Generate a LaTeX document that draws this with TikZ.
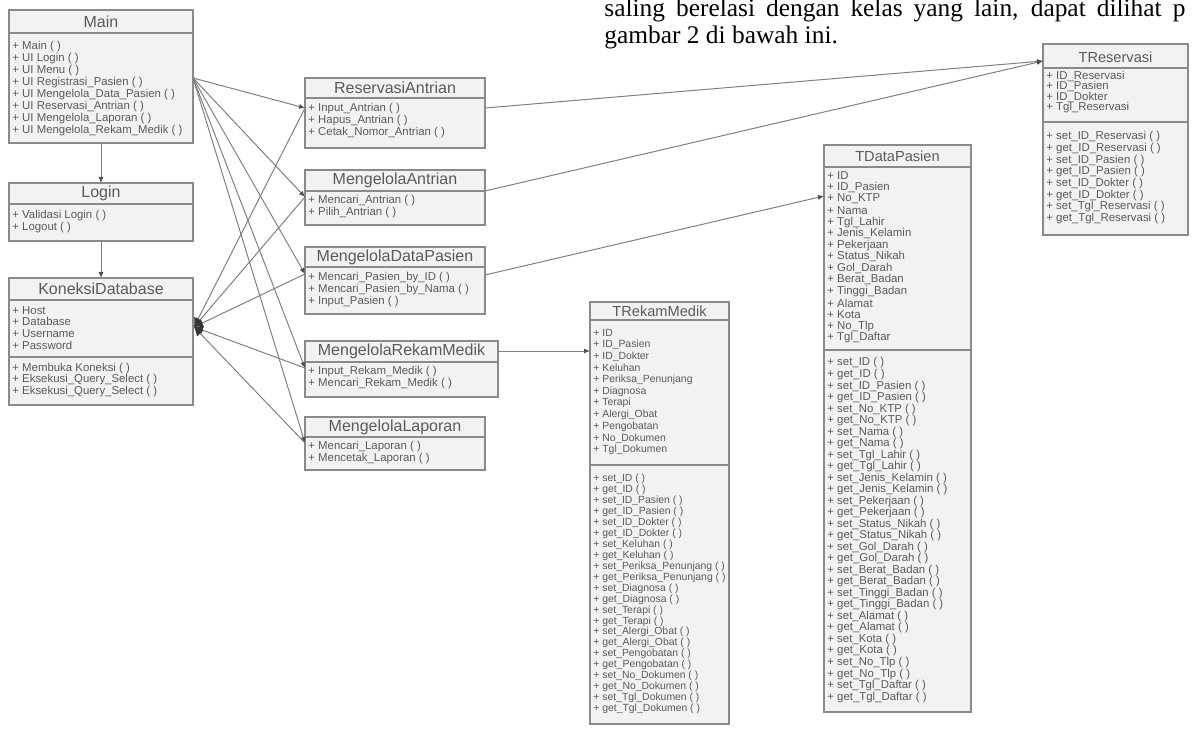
\documentclass[tikz,border=0pt]{standalone}
\usepackage{fontspec}
\setmainfont{Liberation Serif}
\newfontfamily\umlfont{Liberation Sans}
\usetikzlibrary{arrows.meta}

\definecolor{boxfill}{HTML}{F2F2F2}
\definecolor{boxdraw}{HTML}{8A8A8A}
\definecolor{umltext}{HTML}{5A5A5A}
\definecolor{linkdraw}{HTML}{808080}
\definecolor{tipdraw}{HTML}{505050}
\definecolor{blobdraw}{HTML}{353535}

\tikzset{
	classbox/.style={draw=boxdraw, fill=boxfill, line width=0.9pt},
	classline/.style={draw=boxdraw, line width=0.9pt},
	classtitle/.style={inner sep=0pt, text=umltext, font=\umlfont\fontsize{8}{9}\selectfont},
	tabletitle/.style={inner sep=0pt, text=umltext, font=\umlfont\fontsize{7.3}{9}\selectfont},
	member/.style={anchor=west, inner sep=0pt, text=umltext, font=\umlfont\fontsize{5.7}{6}\selectfont},
	link/.style={draw=linkdraw, line width=0.5pt, -{Latex[length=3pt,width=2.6pt,color=tipdraw]}},
	konlink/.style={draw=linkdraw, line width=0.5pt, -{Latex[length=4.5pt,width=4.5pt,color=blobdraw]}},
	para/.style={anchor=base west, inner sep=0pt, font=\fontsize{12.7}{15}\selectfont}
}

\begin{document}
\begin{tikzpicture}[x=0.5pt, y=-0.5pt]
		\useasboundingbox (0,0) rectangle (1192,737);
		
		% Text
		\node[para] (para1) at (604,17) {\makebox[290.5pt][s]{saling berelasi dengan kelas yang lain, dapat dilihat p}};
		\node[para] (para2) at (604,44) {gambar 2 di bawah ini.};
		
		% Main
		\draw[classbox] (9,10) rectangle (193,143);
		\draw[classline] (9,33) -- (193,33);
		\node[classtitle] (main) at (101,21.5) {Main};
		\foreach \m [count=\i] in {Main ( ), UI Login ( ), UI Menu ( ), UI Registrasi\_Pasien ( ), UI Mengelola\_Data\_Pasien ( ), UI Reservasi\_Antrian ( ), UI Mengelola\_Laporan ( ), UI Mengelola\_Rekam\_Medik ( )}
			\node[member] (main-\i) at (12,{35+12*\i}) {+ \m};
		
		% Login
		\draw[classbox] (9,183) rectangle (193,241);
		\draw[classline] (9,204) -- (193,204);
		\node[classtitle] (login) at (101,193.5) {Login};
		\foreach \m [count=\i] in {Validasi Login ( ), Logout ( )}
			\node[member] (login-\i) at (12,{204+12*\i}) {+ \m};
		
		% KoneksiDatabase
		\draw[classbox] (9,278) rectangle (193,405);
		\draw[classline] (9,300) -- (193,300);
		\draw[classline] (9,357) -- (193,357);
		\node[classtitle] (kon) at (101,289) {KoneksiDatabase};
		\foreach \m [count=\i] in {Host, Database, Username, Password}
			\node[member] (kon-a\i) at (12,{298.5+11.7*\i}) {+ \m};
		\foreach \m [count=\i] in {Membuka Koneksi ( ), Eksekusi\_Query\_Select ( ), Eksekusi\_Query\_Select ( )}
			\node[member] (kon-m\i) at (12,{356.5+11.7*\i}) {+ \m};
		
		% ReservasiAntrian
		\draw[classbox] (305,78) rectangle (485,148);
		\draw[classline] (305,98) -- (485,98);
		\node[classtitle] (ra) at (395,88) {ReservasiAntrian};
		\foreach \m [count=\i] in {Input\_Antrian ( ), Hapus\_Antrian ( ), Cetak\_Nomor\_Antrian ( )}
			\node[member] (ra-\i) at (308,{97+12*\i}) {+ \m};
		
		% MengelolaAntrian
		\draw[classbox] (305,170) rectangle (485,225);
		\draw[classline] (305,191) -- (485,191);
		\node[classtitle] (ma) at (395,180.5) {MengelolaAntrian};
		\foreach \m [count=\i] in {Mencari\_Antrian ( ), Pilih\_Antrian ( )}
			\node[member] (ma-\i) at (308,{189+12*\i}) {+ \m};
		
		% MengelolaDataPasien
		\draw[classbox] (305,247) rectangle (485,314);
		\draw[classline] (305,267) -- (485,267);
		\node[classtitle] (mdp) at (395,257) {MengelolaDataPasien};
		\foreach \m [count=\i] in {Mencari\_Pasien\_by\_ID ( ), Mencari\_Pasien\_by\_Nama ( ), Input\_Pasien ( )}
			\node[member] (mdp-\i) at (308,{266+12*\i}) {+ \m};
		
		% MengelolaRekamMedik
		\draw[classbox] (305,341) rectangle (498,397);
		\draw[classline] (305,362) -- (498,362);
		\node[classtitle] (mrm) at (401.5,351.5) {MengelolaRekamMedik};
		\foreach \m [count=\i] in {Input\_Rekam\_Medik ( ), Mencari\_Rekam\_Medik ( )}
			\node[member] (mrm-\i) at (308,{360+12*\i}) {+ \m};
		
		% MengelolaLaporan
		\draw[classbox] (305,417) rectangle (485,470);
		\draw[classline] (305,437) -- (485,437);
		\node[classtitle] (ml) at (395,427) {MengelolaLaporan};
		\foreach \m [count=\i] in {Mencari\_Laporan ( ), Mencetak\_Laporan ( )}
			\node[member] (ml-\i) at (308,{435+12*\i}) {+ \m};
		
		% TReservasi
		\draw[classbox] (1043,44) rectangle (1188,235);
		\draw[classline] (1043,68) -- (1188,68);
		\draw[classline] (1043,122) -- (1188,122);
		\node[tabletitle] (tres) at (1115.5,57) {TReservasi};
		\foreach \a [count=\i] in {ID\_Reservasi, ID\_Pasien, ID\_Dokter, Tgl\_Reservasi} {
			\node[member] (tres-a\i) at (1046,{65.5+10.6*\i}) {+ \a};
			\node[member] (tres-s\i) at (1046,{113.3+23.4*\i}) {+ set\_\a\ ( )};
			\node[member] (tres-g\i) at (1046,{125+23.4*\i}) {+ get\_\a\ ( )};
		}
		
		% TDataPasien
		\draw[classbox] (824,145) rectangle (971,712);
		\draw[classline] (824,167) -- (971,167);
		\draw[classline] (824,350) -- (971,350);
		\node[tabletitle] (tdp) at (897.5,156) {TDataPasien};
		\foreach \a [count=\i] in {ID, ID\_Pasien, No\_KTP, Nama, Tgl\_Lahir, Jenis\_Kelamin, Pekerjaan, Status\_Nikah, Gol\_Darah, Berat\_Badan, Tinggi\_Badan, Alamat, Kota, No\_Tlp, Tgl\_Daftar} {
			\node[member] (tdp-a\i) at (827,{164.45+11.55*\i}) {+ \a};
			\node[member] (tdp-s\i) at (827,{339.98+23.04*\i}) {+ set\_\a\ ( )};
			\node[member] (tdp-g\i) at (827,{351.5+23.04*\i}) {+ get\_\a\ ( )};
		}
		
		% TRekamMedik
		\draw[classbox] (590,302) rectangle (729,724);
		\draw[classline] (590,320) -- (729,320);
		\draw[classline] (590,465) -- (729,465);
		\node[tabletitle] (trm) at (659.5,311) {TRekamMedik};
		\foreach \a [count=\i] in {ID, ID\_Pasien, ID\_Dokter, Keluhan, Periksa\_Penunjang, Diagnosa, Terapi, Alergi\_Obat, Pengobatan, No\_Dokumen, Tgl\_Dokumen} {
			\node[member, font=\umlfont\fontsize{5.2}{6}\selectfont] (trm-a\i) at (593,{321.3+11.7*\i}) {+ \a};
			\node[member, font=\umlfont\fontsize{5.2}{6}\selectfont] (trm-s\i) at (593,{457.1+21.9*\i}) {+ set\_\a\ ( )};
			\node[member, font=\umlfont\fontsize{5.2}{6}\selectfont] (trm-g\i) at (593,{468.05+21.9*\i}) {+ get\_\a\ ( )};
		}
		
		% Connection points
		\coordinate (main-s) at (101,143);
		\coordinate (login-n) at (101,183);
		\coordinate (login-s) at (101,241);
		\coordinate (kon-n) at (101,278);
		\coordinate (main-out) at (193,78);
		\coordinate (kon-in) at (194,327);
		\coordinate (ra-in) at (305,108);
		\coordinate (ma-in) at (305,197);
		\coordinate (mdp-in) at (305,274);
		\coordinate (mrm-in) at (305,368);
		\coordinate (ml-in) at (305,443);
		\coordinate (ra-out) at (485,108);
		\coordinate (ma-out) at (485,191);
		\coordinate (mdp-out) at (485,275);
		\coordinate (mrm-out) at (498,351);
		\coordinate (tres-in) at (1043,61);
		\coordinate (tdp-in) at (824,196);
		\coordinate (trm-in) at (590,351);
		
		% Links
		\draw[link] (main-s) -- (login-n);
		\draw[link] (login-s) -- (kon-n);
		\foreach \c in {ra,ma,mdp,mrm,ml} {
			\draw[link] (main-out) -- (\c-in);
			\draw[konlink] (\c-in) -- (kon-in);
		}
		\draw[link] (ra-out) -- (tres-in);
		\draw[link] (ma-out) -- (tres-in);
		\draw[link] (mdp-out) -- (tdp-in);
		\draw[link] (mrm-out) -- (trm-in);
	\end{tikzpicture}
\end{document}
